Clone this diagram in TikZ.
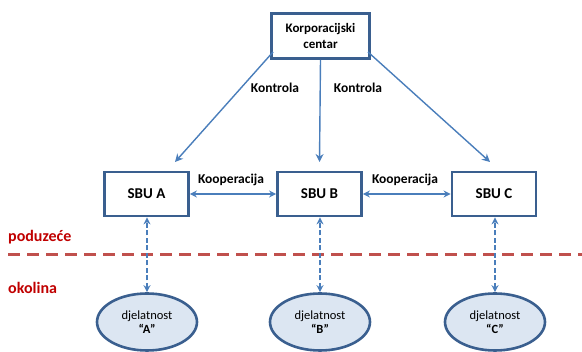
\documentclass[tikz,border=0pt]{standalone}
\usepackage{fontspec}
\setmainfont{Carlito}
\usetikzlibrary{arrows.meta,shapes.geometric}
\definecolor{boxline}{HTML}{3A5F8F}
\definecolor{arrowblue}{HTML}{4A7EBB}
\definecolor{linered}{HTML}{C0504D}
\definecolor{textred}{HTML}{C00000}
\definecolor{ellfill}{HTML}{DCE6F2}
\tikzset{
  unit/.style={draw=boxline, line width=2.8pt, fill=white, minimum width=84pt, minimum height=44pt, font=\bfseries\fontsize{15}{17}\selectfont, align=center, inner sep=0pt},
  env/.style={ellipse, draw=boxline, line width=2.6pt, fill=ellfill, minimum width=100pt, minimum height=57pt, font=\fontsize{12.5}{14}\selectfont, align=center, inner sep=0pt},
  flow/.style={draw=arrowblue, line width=1.4pt, -{Stealth[length=8pt,width=8pt]}},
  coop/.style={draw=arrowblue, line width=1.4pt, {Stealth[length=7pt,width=7pt]}-{Stealth[length=7pt,width=7pt]}},
  link/.style={draw=arrowblue, line width=1.4pt, dash pattern=on 5pt off 2.5pt, {Stealth[length=7pt,width=7pt]}-{Stealth[length=7pt,width=7pt]}},
  tag/.style={font=\bfseries\fontsize{13.5}{15}\selectfont, inner sep=0pt},
  zone/.style={font=\bfseries\fontsize{16}{18}\selectfont, text=textred, inner sep=0pt, anchor=west}
}
\begin{document}
\begin{tikzpicture}[x=1pt,y=-1pt]
\useasboundingbox (0,0) rectangle (582,352);
% centre and business units
\node[unit, minimum width=98pt, minimum height=45pt, font=\bfseries\fontsize{13}{16}\selectfont] (hq) at (320.5,36) {Korporacijski\\centar};
\node[unit] (a) at (146.5,194) {SBU A};
\node[unit] (b) at (319.5,194) {SBU B};
\node[unit] (c) at (494,194) {SBU C};
% control lines
\coordinate (ta) at (175,162);
\coordinate (tb) at (319.5,162);
\coordinate (tc) at (490,162);
\draw[flow] (hq.south west) ++(3,-8) coordinate (hql) -- (ta);
\draw[flow] (hq.south) -- (tb);
\draw[flow] (hq.south east) ++(-3,-8) coordinate (hqr) -- (tc);
\node[tag] (k1) at (275,88) {Kontrola};
\node[tag] (k2) at (358,88) {Kontrola};
% cooperation
\draw[coop] (a.east) -- (b.west);
\draw[coop] (b.east) -- (c.west);
\node[tag] (c1) at (231,180) {Kooperacija};
\node[tag] (c2) at (405,180) {Kooperacija};
% company / environment border
\coordinate (bl) at (8,255);
\coordinate (br) at (582,255);
\draw[linered, line width=3pt, dash pattern=on 12pt off 7pt] (bl) -- (br);
\node[zone] (pod) at (8,237) {poduzeće};
\node[zone] (oko) at (8,288) {okolina};
% environment activities
\node[env] (ea) at (147,322) {djelatnost\\\textbf{“A”}};
\node[env] (eb) at (320,322) {djelatnost\\\textbf{“B”}};
\node[env] (ec) at (495,322) {djelatnost\\\textbf{“C”}};
\draw[link] (ea.north) -- (ea.north |- a.south);
\draw[link] (eb.north) -- (eb.north |- b.south);
\draw[link] (ec.north) -- (ec.north |- c.south);
\end{tikzpicture}
\end{document}
